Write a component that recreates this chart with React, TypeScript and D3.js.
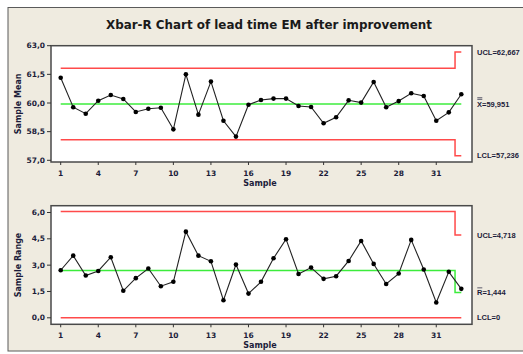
import React from "react";
import * as d3 from "d3";

const samples = d3.range(1, 34);
const xbarValues = [
  61.32, 59.78, 59.44, 60.12, 60.42, 60.21, 59.53, 59.7, 59.75, 58.62,
  61.5, 59.39, 61.12, 59.07, 58.24, 59.91, 60.16, 60.23, 60.23, 59.84,
  59.79, 58.94, 59.25, 60.14, 60.02, 61.1, 59.78, 60.1, 60.51, 60.37,
  59.07, 59.51, 60.46,
];
const rangeValues = [
  2.71, 3.54, 2.41, 2.67, 3.45, 1.54, 2.26, 2.81, 1.8, 2.05,
  4.91, 3.54, 3.22, 1.0, 3.03, 1.38, 2.05, 3.39, 4.48, 2.5,
  2.86, 2.22, 2.37, 3.24, 4.38, 3.07, 1.93, 2.52, 4.44, 2.75,
  0.87, 2.62, 1.65,
];
// control limits: [stage1, stage2]
const xbarUCL = [61.82, 62.667];
const xbarCL = [59.951, 59.951];
const xbarLCL = [58.08, 57.236];
const rUCL = [6.05, 4.718];
const rCL = [2.69, 1.444];
const rLCL = [0, 0];
const stageBreak = 32.5;
const xTicks = [1, 4, 7, 10, 13, 16, 19, 22, 25, 28, 31];
const xbarTicks = [57.0, 58.5, 60.0, 61.5, 63.0];
const rTicks = [0.0, 1.5, 3.0, 4.5, 6.0];

const W = 523;
const H = 354;
const FONT = "Tahoma, 'DejaVu Sans', Verdana, sans-serif";
const NARROW = "'Liberation Sans', Arial, sans-serif";
const TXT = "#1c1c3a";
const RED = "#ff4a4a";
const GREEN = "#3cec3c";

const fmt = (v: number) => v.toFixed(1).replace(".", ",");

function stepPath(
  x: d3.ScaleLinear<number, number>,
  y: d3.ScaleLinear<number, number>,
  vals: number[]
) {
  const pts: [number, number][] = [
    [1, vals[0]],
    [stageBreak, vals[0]],
    [stageBreak, vals[1]],
    [33, vals[1]],
  ];
  return d3.line<[number, number]>()
    .x((d) => x(d[0]))
    .y((d) => y(d[1]))(pts) as string;
}

type PanelProps = {
  values: number[];
  yDomain: [number, number];
  yRange: [number, number];
  frameTop: number;
  frameBottom: number;
  ticks: number[];
  ucl: number[];
  cl: number[];
  lcl: number[];
  yTitle: string;
  labels: { text: React.ReactNode; value: number }[];
};

const x = d3.scaleLinear().domain([1, 33]).range([60.7, 461.3]);
const frameLeft = 51;
const frameRight = 472;

function Panel(p: PanelProps) {
  const y = d3.scaleLinear().domain(p.yDomain).range(p.yRange);
  const line = d3.line<number>()
    .x((_, i) => x(samples[i]))
    .y((d) => y(d));
  const midY = (p.frameTop + p.frameBottom) / 2;
  return (
    <g>
      <rect
        x={frameLeft}
        y={p.frameTop}
        width={frameRight - frameLeft}
        height={p.frameBottom - p.frameTop}
        fill="#ffffff"
        stroke="#4a4a4a"
        strokeWidth={1.5}
      />
      {p.ticks.map((t) => (
        <g key={t}>
          <line x1={frameLeft - 4} x2={frameLeft} y1={y(t)} y2={y(t)} stroke="#333" strokeWidth={1} />
          <text
            x={frameLeft - 6}
            y={y(t)}
            dy="0.35em"
            textAnchor="end"
            fontSize={7.5}
            fontWeight="bold"
            fill={TXT}
            fontFamily={FONT}
          >
            {fmt(t)}
          </text>
        </g>
      ))}
      {xTicks.map((t) => (
        <g key={t}>
          <line x1={x(t)} x2={x(t)} y1={p.frameBottom} y2={p.frameBottom + 3} stroke="#333" strokeWidth={1} />
          <text
            x={x(t)}
            y={p.frameBottom + 14}
            textAnchor="middle"
            fontSize={7.5}
            fontWeight="bold"
            fill={TXT}
            fontFamily={FONT}
          >
            {t}
          </text>
        </g>
      ))}
      <text
        x={260}
        y={p.frameBottom + 24}
        textAnchor="middle"
        fontSize={8}
        fontWeight="bold"
        fill={TXT}
        fontFamily={FONT}
      >
        Sample
      </text>
      <text
        transform={`translate(21,${midY}) rotate(-90)`}
        textAnchor="middle"
        fontSize={8}
        fontWeight="bold"
        fill={TXT}
        fontFamily={FONT}
      >
        {p.yTitle}
      </text>
      <path d={stepPath(x, y, p.ucl)} fill="none" stroke={RED} strokeWidth={1.5} />
      <path d={stepPath(x, y, p.lcl)} fill="none" stroke={RED} strokeWidth={1.5} />
      <path d={stepPath(x, y, p.cl)} fill="none" stroke={GREEN} strokeWidth={1.5} />
      <path d={line(p.values) as string} fill="none" stroke="#222" strokeWidth={1.1} />
      {p.values.map((v, i) => (
        <circle key={i} cx={x(samples[i])} cy={y(v)} r={2.3} fill="#000" />
      ))}
      {p.labels.map((l, i) => (
        <text
          key={i}
          x={477}
          y={y(l.value)}
          dy="0.35em"
          fontSize={7.5}
          fontWeight="bold"
          fill={TXT}
          fontFamily={NARROW}
        >
          {l.text}
        </text>
      ))}
    </g>
  );
}

function BarLabel({ letter, bars, rest, yPos }: { letter: string; bars: number; rest: string; yPos: number }) {
  return (
    <g>
      <text x={477} y={yPos} dy="0.35em" fontSize={7.5} fontWeight="bold" fill={TXT} fontFamily={NARROW}>
        {letter}
        {rest}
      </text>
      {d3.range(bars).map((b) => (
        <line key={b} x1={477.3} x2={482.3} y1={yPos - 4.6 - b * 1.6} y2={yPos - 4.6 - b * 1.6} stroke={TXT} strokeWidth={0.7} />
      ))}
    </g>
  );
}

export default function App() {
  const yTop = d3.scaleLinear().domain([57, 63]).range([160.3, 45.7]);
  const yBot = d3.scaleLinear().domain([0, 6]).range([317.8, 212.5]);
  return (
    <svg
      width={W}
      height={H}
      style={{ position: "absolute", left: 0, top: 0, display: "block" }}
    >
      <rect x={0} y={0} width={W} height={H} fill="#ffffff" />
      <rect x={8} y={7.5} width={W} height={343.5} fill="#efebe0" stroke="#5a5a5a" strokeWidth={1} />
      <text
        x={269}
        y={29}
        textAnchor="middle"
        fontSize={13}
        fontWeight="bold"
        fill="#1a1a1a"
        fontFamily={FONT}
        textLength={326}
        lengthAdjust="spacingAndGlyphs"
      >
        Xbar-R Chart of lead time EM after improvement
      </text>
      <Panel
        values={xbarValues}
        yDomain={[57, 63]}
        yRange={[160.3, 45.7]}
        frameTop={45.7}
        frameBottom={162}
        ticks={xbarTicks}
        ucl={xbarUCL}
        cl={xbarCL}
        lcl={xbarLCL}
        yTitle="Sample Mean"
        labels={[
          { text: "UCL=62,667", value: xbarUCL[1] },
          { text: "LCL=57,236", value: xbarLCL[1] },
        ]}
      />
      <BarLabel letter="X" bars={2} rest="=59,951" yPos={yTop(xbarCL[1])} />
      <Panel
        values={rangeValues}
        yDomain={[0, 6]}
        yRange={[317.8, 212.5]}
        frameTop={205.7}
        frameBottom={324.3}
        ticks={rTicks}
        ucl={rUCL}
        cl={rCL}
        lcl={rLCL}
        yTitle="Sample Range"
        labels={[
          { text: "UCL=4,718", value: rUCL[1] },
          { text: "LCL=0", value: rLCL[1] },
        ]}
      />
      <BarLabel letter="R" bars={1} rest="=1,444" yPos={yBot(rCL[1])} />
    </svg>
  );
}
